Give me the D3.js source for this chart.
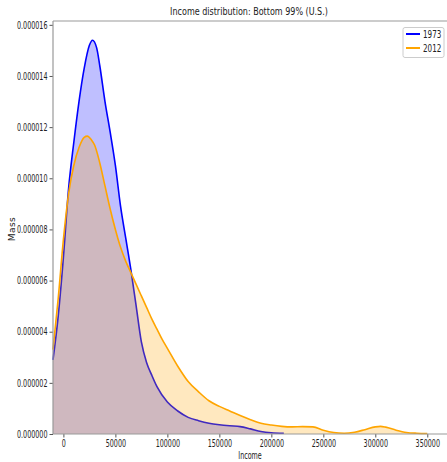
<!DOCTYPE html>
<html>
<head>
<meta charset="utf-8">
<script src="https://cdn.jsdelivr.net/npm/d3@7"></script>
<style>
  html, body { margin: 0; padding: 0; background: #fff; }
  svg { display: block; }
  text { font-family: "DejaVu Sans", sans-serif; fill: #222; }
</style>
</head>
<body>
<svg id="chart" width="447" height="462"></svg>
<script>
// income (USD) and density values
const income1973 = [-10000, -5000, 0, 5000, 10000, 15000, 20000, 25000, 28000, 32000, 35000, 40000, 45000,
  50000, 55000, 60000, 65000, 70000, 75000, 80000, 85000, 90000, 100000, 110000, 120000, 130000, 140000,
  150000, 160000, 170000, 180000, 190000, 200000, 212000];
const mass1973 = [2.9, 4.6, 6.9, 9.6, 11.4, 13.0, 14.3, 15.2, 15.4, 15.1, 14.4, 13.0, 11.8,
  10.5, 8.9, 7.65, 6.4, 5.0, 3.6, 2.8, 2.3, 1.85, 1.25, 0.9, 0.65, 0.52, 0.42,
  0.36, 0.32, 0.29, 0.2, 0.1, 0.05, 0.03].map(v => v * 1e-6);

const income2012 = [-10000, -5000, 0, 5000, 10000, 15000, 20000, 23000, 27000, 30000, 35000, 40000, 45000,
  50000, 55000, 60000, 65000, 70000, 75000, 80000, 85000, 90000, 95000, 100000, 110000, 120000, 130000,
  140000, 150000, 160000, 170000, 180000, 190000, 200000, 210000, 220000, 230000, 240000, 250000, 260000,
  270000, 280000, 290000, 300000, 305000, 310000, 320000, 330000, 340000, 350000];
const mass2012 = [3.3, 5.3, 7.6, 9.4, 10.5, 11.2, 11.6, 11.65, 11.5, 11.3, 10.6, 9.7, 8.8,
  8.0, 7.3, 6.75, 6.3, 5.85, 5.4, 4.95, 4.5, 4.1, 3.7, 3.35, 2.65, 2.05, 1.65,
  1.3, 1.08, 0.9, 0.72, 0.56, 0.42, 0.35, 0.3, 0.28, 0.29, 0.28, 0.15, 0.06,
  0.03, 0.07, 0.17, 0.28, 0.3, 0.27, 0.15, 0.06, 0.03, 0.02].map(v => v * 1e-6);

const seriesNames = ['1973', '2012'];
const xTicks = [0, 50000, 100000, 150000, 200000, 250000, 300000, 350000];
const yTicks = [0, 2e-6, 4e-6, 6e-6, 8e-6, 10e-6, 12e-6, 14e-6, 16e-6];

const series = [
  { name: seriesNames[0], xs: income1973, ys: mass1973, color: '#0000ff' },
  { name: seriesNames[1], xs: income2012, ys: mass2012, color: '#ffa500' }
];

const svg = d3.select('#chart');
const plotLeft = 53, plotRight = 446, plotTop = 21, plotBottom = 434;

const x = d3.scaleLinear().domain([-10000, 368000]).range([plotLeft, plotRight]);
const y = d3.scaleLinear().domain([0, 16.15e-6]).range([plotBottom, plotTop]);

// squeeze text horizontally, the reference uses a narrow face
function condense(sel, k) {
  sel.each(function() {
    const t = d3.select(this);
    const tx = +t.attr('x') || 0;
    const ty = +t.attr('y') || 0;
    t.attr('x', 0).attr('y', 0)
      .attr('transform', `translate(${tx},${ty}) scale(${k},1)`);
  });
}

// filled densities, each followed by its line (orange layer tints what lies below)
const area = d3.area()
  .x(d => x(d[0]))
  .y0(y(0))
  .y1(d => y(d[1]))
  .curve(d3.curveMonotoneX);
const line = d3.line()
  .x(d => x(d[0]))
  .y(d => y(d[1]))
  .curve(d3.curveMonotoneX);

const plot = svg.append('g').attr('class', 'plot');
series.forEach(s => {
  const pts = s.xs.map((v, i) => [v, s.ys[i]]);
  plot.append('path')
    .attr('d', area(pts))
    .attr('fill', s.color)
    .attr('fill-opacity', 0.25);
  plot.append('path')
    .attr('d', line(pts))
    .attr('fill', 'none')
    .attr('stroke', s.color)
    .attr('stroke-width', 1.6);
});

// axes
const xAxis = svg.append('g')
  .attr('transform', `translate(0,${plotBottom})`)
  .call(d3.axisBottom(x).tickValues(xTicks).tickFormat(d3.format('d')).tickSize(3.5).tickPadding(2.5));
const yAxis = svg.append('g')
  .attr('transform', `translate(${plotLeft},0)`)
  .call(d3.axisLeft(y).tickValues(yTicks).tickFormat(d => d.toFixed(6)).tickSize(3.5).tickPadding(2));

[xAxis, yAxis].forEach(g => {
  g.select('.domain').remove();
  g.selectAll('.tick line').attr('stroke', '#555');
  g.selectAll('.tick text')
    .style('font-size', '10px')
    .style('font-family', '"DejaVu Sans", sans-serif')
    .attr('fill', '#222');
  condense(g.selectAll('.tick text'), 0.64);
});

// spines
svg.append('line').attr('x1', plotLeft).attr('x2', plotLeft).attr('y1', plotTop).attr('y2', plotBottom)
  .attr('stroke', '#999').attr('stroke-width', 1.2);
svg.append('line').attr('x1', plotLeft).attr('x2', 447).attr('y1', plotBottom).attr('y2', plotBottom)
  .attr('stroke', '#999').attr('stroke-width', 1.2);
svg.append('line').attr('x1', plotLeft).attr('x2', 447).attr('y1', plotTop).attr('y2', plotTop)
  .attr('stroke', '#999').attr('stroke-width', 1.2);

// labels
const title = svg.append('text')
  .attr('x', 249).attr('y', 15)
  .attr('text-anchor', 'middle')
  .style('font-size', '11px')
  .text('Income distribution: Bottom 99% (U.S.)');
condense(title, 0.73);
const xLabel = svg.append('text')
  .attr('x', 250).attr('y', 459)
  .attr('text-anchor', 'middle')
  .style('font-size', '10px')
  .text('Income');
condense(xLabel, 0.64);
svg.append('text')
  .attr('transform', 'translate(15,229) rotate(-90)')
  .attr('text-anchor', 'middle')
  .style('font-size', '9px')
  .attr('letter-spacing', '0.4')
  .text('Mass');

// legend
const legend = svg.append('g').attr('transform', 'translate(403,27.5)');
legend.append('rect')
  .attr('width', 41).attr('height', 30).attr('rx', 2)
  .attr('fill', '#fff').attr('stroke', '#ccc');
series.forEach((s, i) => {
  const row = legend.append('g').attr('transform', `translate(0,${6.5 + i * 14})`);
  row.append('line').attr('x1', 3).attr('x2', 17)
    .attr('stroke', s.color).attr('stroke-width', 2);
  const lbl = row.append('text').attr('x', 20).attr('dy', '0.35em')
    .style('font-size', '10px').text(s.name);
  condense(lbl, 0.72);
});
</script>
</body>
</html>
